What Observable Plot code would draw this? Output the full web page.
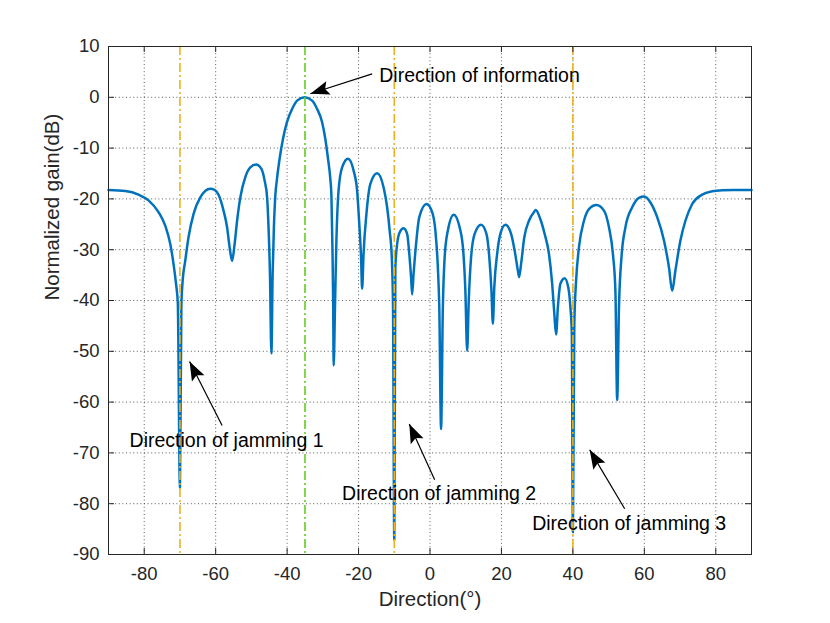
<!DOCTYPE html>
<html>
<head>
<meta charset="utf-8">
<script src="https://cdn.jsdelivr.net/npm/d3@7"></script>
<script src="https://cdn.jsdelivr.net/npm/@observablehq/plot@0.6"></script>
<style>
  html, body { margin: 0; padding: 0; background: #fff; }
</style>
</head>
<body>
<div id="chart"></div>
<script>
// ---- data ----
const angles = [
  -90, -85.3, -81.6, -78.8, -76.0, -74.1, -72.7, -71.8, -71.1, -70.6, -70.0,
  -69.6, -69.3, -68.5, -67.6, -66.2, -64.3, -61.5, -60.3, -59.2, -57.8, -56.8, -56.1, -55.4,
  -54.7, -54.0, -53.1, -51.7, -50.3, -48.7, -47.2, -46.3, -45.6, -45.2, -44.8, -44.4,
  -44.05, -43.7, -43.3, -42.84, -42.1, -41.16, -40.04, -38.6, -37.2, -35.1,
  -33.0, -31.6, -30.2, -29.3, -28.55, -27.9, -27.6, -27.3, -27.1, -26.97,
  -26.6, -26.2, -25.6, -24.6, -22.95, -21.4, -20.4, -19.8, -19.3, -19.0,
  -18.6, -17.8, -16.7, -14.8, -13.0, -12.0, -11.3, -10.7, -10.35, -10.0,
  -9.7, -9.2, -8.5, -7.4, -6.4, -5.8, -5.3, -5.0,
  -4.6, -3.9, -3.0, -1.0, 0.6, 1.5, 2.2, 2.6, 3.1,
  3.6, 4.1, 5.0, 6.65, 8.3, 9.3, 9.9, 10.4,
  10.85, 11.5, 12.5, 14.3, 15.8, 16.6, 17.2, 17.6,
  18.0, 18.8, 19.7, 21.1, 22.7, 23.7, 24.6, 24.95,
  25.5, 26.4, 27.7, 29.1, 29.6, 30.9, 32.1, 33.3, 34.2, 34.8, 35.3,
  35.8, 36.5, 37.7, 38.7, 39.3, 39.7, 40.0,
  40.4, 40.9, 41.7, 43.1, 44.5, 46.6, 48.7, 50.1, 51.2, 51.9, 52.4,
  52.9, 53.6, 54.7, 56.6, 58.5, 59.9, 61.7, 63.6, 65.5, 66.9, 67.8,
  68.7, 70.1, 71.5, 73.4, 76.2, 79.0, 81.8, 85.0, 90
];
const gains = [
  -18.25, -18.45, -19.15, -20.3, -22.6, -25.3, -28.9, -32.8, -36.7, -40.5, -76.8,
  -41.0, -36.7, -32.1, -27.55, -23.0, -19.7, -18.0, -18.2, -19.2, -22.3, -25.6, -29.5, -32.2,
  -28.9, -24.3, -19.7, -15.7, -13.8, -13.25, -14.1, -16.4, -19.7, -25.6, -34.8, -50.4,
  -34.8, -25.6, -19.35, -16.1, -12.1, -8.2, -4.9, -2.3, -0.65, 0,
  -0.65, -2.3, -4.9, -8.2, -12.1, -16.1, -19.35, -30.0, -41.0, -52.8,
  -41.3, -28.2, -18.4, -13.8, -12.1, -14.4, -18.4, -24.9, -31.5, -37.7,
  -30.8, -23.0, -17.05, -14.95, -17.7, -21.65, -26.2, -31.5, -41.3, -87.1,
  -33.5, -28.9, -26.6, -25.8, -26.9, -30.8, -35.4, -38.8,
  -34.8, -28.9, -23.6, -21.0, -22.6, -26.2, -33.5, -41.3, -65.3,
  -41.3, -31.5, -26.2, -23.1, -25.6, -30.2, -38.05, -49.9,
  -40.0, -31.5, -26.9, -25.1, -26.9, -31.5, -38.05, -44.6,
  -37.4, -30.8, -26.9, -25.1, -26.9, -30.2, -34.1, -35.4,
  -32.8, -27.55, -24.3, -22.6, -22.2, -24.0, -26.9, -30.8, -36.7, -42.6, -46.7,
  -41.3, -36.7, -35.6, -37.4, -41.3, -46.6, -85.6,
  -44.6, -36.1, -29.5, -24.3, -22.0, -21.2, -22.3, -25.6, -30.8, -38.05, -59.6,
  -41.3, -31.5, -25.6, -21.65, -19.8, -19.55, -20.7, -23.6, -28.2, -33.5, -38.1,
  -34.1, -28.2, -24.3, -21.0, -19.15, -18.5, -18.3, -18.25, -18.25
];

const xTicks = [-80, -60, -40, -20, 0, 20, 40, 60, 80];
const yTicks = [-90, -80, -70, -60, -50, -40, -30, -20, -10, 0, 10];

const jammingDirections = [-70, -10, 40];
const informationDirection = [-35];

const noteTexts = ["Direction of information", "Direction of jamming 1", "Direction of jamming 2", "Direction of jamming 3"];
const noteX = [-14.2, -84.1, -24.6, 28.6];
const noteY = [4.27, -67.6, -78.1, -83.9];

const arrowTailX = [-16.2, -58.2, 1.3, 54.5];
const arrowTailY = [4.6, -64.6, -75.3, -81.0];
const arrowHeadX = [-33.5, -67.3, -5.8, 44.7];
const arrowHeadY = [0.7, -52.0, -64.3, -69.4];

const xLabel = "Direction(°)";
const yLabel = "Normalized gain(dB)";

// ---- build tables ----
const pattern = angles.map((a, i) => ({angle: a, gain: gains[i]}));
const notes = noteTexts.map((t, i) => ({text: t, x: noteX[i], y: noteY[i]}));
const arrows = arrowTailX.map((x, i) => ({x1: x, y1: arrowTailY[i], x2: arrowHeadX[i], y2: arrowHeadY[i]}));

const W = 830, H = 623;
const mL = 108, mR = 79, mT = 46, mB = 69;
const innerW = W - mL - mR, innerH = H - mT - mB;
const tickLen = 6;
const axisColor = "#262626";
const font = "'Liberation Sans', Arial, Helvetica, sans-serif";

const svg = Plot.plot({
  width: W,
  height: H,
  marginLeft: mL,
  marginRight: mR,
  marginTop: mT,
  marginBottom: mB,
  style: {fontFamily: font, background: "#fff", color: axisColor, overflow: "visible"},
  x: {domain: [-90, 90], label: null},
  y: {domain: [-90, 10], label: null},
  marks: [
    Plot.gridX(xTicks, {stroke: "#262626", strokeOpacity: 0.75, strokeDasharray: "1,2.6", strokeWidth: 1}),
    Plot.gridY(yTicks, {stroke: "#262626", strokeOpacity: 0.75, strokeDasharray: "1,2.6", strokeWidth: 1}),
    Plot.line(pattern, {x: "angle", y: "gain", stroke: "#0072BD", strokeWidth: 2.5, curve: "monotone-x"}),
    Plot.ruleX(jammingDirections, {stroke: "#EDB120", strokeWidth: 1.6, strokeDasharray: "9,3,2,3"}),
    Plot.ruleX(informationDirection, {stroke: "#66CC22", strokeWidth: 1.6, strokeDasharray: "9,3,2,3"}),
    Plot.frame({stroke: axisColor, strokeWidth: 1}),
    // inward tick marks on all four sides
    Plot.ruleX(xTicks, {stroke: axisColor, insetTop: innerH - tickLen}),
    Plot.ruleX(xTicks, {stroke: axisColor, insetBottom: innerH - tickLen}),
    Plot.ruleY(yTicks, {stroke: axisColor, insetRight: innerW - tickLen}),
    Plot.ruleY(yTicks, {stroke: axisColor, insetLeft: innerW - tickLen}),
    Plot.axisX(xTicks, {tickSize: 0, tickPadding: 12, fontSize: 18.5, label: null, tickFormat: d => String(d).replace("\u2212", "-")}),
    Plot.axisY(yTicks, {tickSize: 0, tickPadding: 9, fontSize: 18.5, label: null, tickFormat: d => String(d).replace("\u2212", "-")}),
    Plot.text([xLabel], {frameAnchor: "bottom", dy: 51, fontSize: 20.5, fill: axisColor, text: d => d}),
    Plot.text([yLabel], {frameAnchor: "left", dx: -56, rotate: -90, fontSize: 20.5, fill: axisColor, text: d => d}),
    Plot.link(arrows, {x1: "x1", y1: "y1", x2: "x2", y2: "y2", stroke: "#000", strokeWidth: 1.2, markerEnd: "arrow"}),
    Plot.text(notes, {x: "x", y: "y", text: "text", textAnchor: "start", lineAnchor: "middle", fontSize: 19.5, fill: "#000"})
  ]
});

// make the arrow heads filled triangles like the reference
svg.querySelectorAll("marker").forEach(m => {
  m.setAttribute("viewBox", "-20 -8 21 16");
  m.setAttribute("markerUnits", "userSpaceOnUse");
  m.setAttribute("markerWidth", 21);
  m.setAttribute("markerHeight", 16);
  m.setAttribute("refX", 0);
  m.setAttribute("refY", 0);
  m.setAttribute("fill", "#000");
  m.setAttribute("stroke", "none");
  m.innerHTML = "";
  const p = document.createElementNS("http://www.w3.org/2000/svg", "path");
  p.setAttribute("d", "M0,0L-19,-7L-15.5,0L-19,7Z");
  m.appendChild(p);
});

document.getElementById("chart").appendChild(svg);
</script>
</body>
</html>
